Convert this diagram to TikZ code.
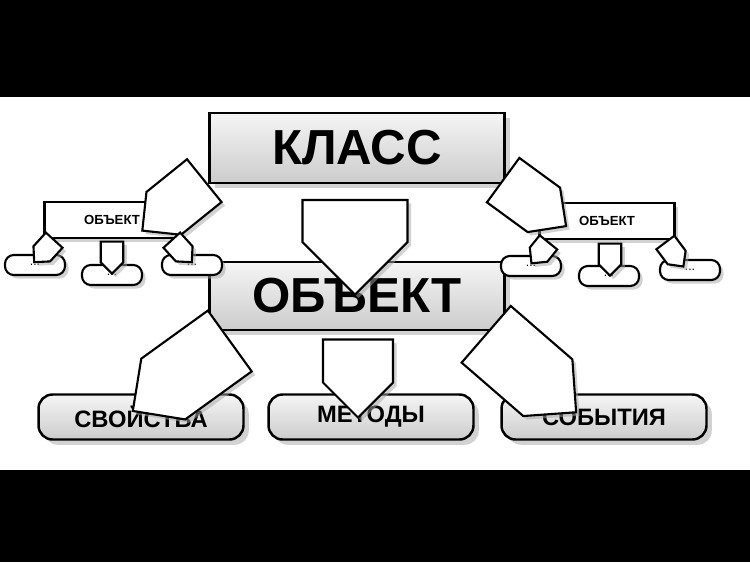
\documentclass[tikz,border=0pt]{standalone}
\usepackage{fontspec}
\setmainfont{Liberation Sans}
\usetikzlibrary{shapes.arrows,shadows,calc}

\newcommand{\blockarrow}[4]{% from, to, head width, shaft width
  \path let \p1=($(#2)-(#1)$), \n1={veclen(\x1,\y1)}, \n2={atan2(\y1,\x1)} in
    node[arrowbody, minimum height=\n1, minimum width=#3,
      single arrow head extend=0pt, rotate=\n2,
      single arrow tip angle=90, inner sep=0pt,
      text width=#4] at ($(#1)!0.5!(#2)$) {};}

\begin{document}
\begin{tikzpicture}[x=0.02cm,y=-0.02cm, thick,
  arrowbody/.style={single arrow,draw,fill=white,line width=1.2pt,
    drop shadow={shadow xshift=2pt,shadow yshift=-2pt,fill=gray!70}},
  bigbox/.style={draw,line width=1.4pt,top color=gray!8,bottom color=gray!40,
    drop shadow={shadow xshift=3pt,shadow yshift=-3pt,fill=gray!70},
    font=\bfseries},
  propbox/.style={bigbox,rounded corners=8pt,minimum width=4.1cm,
    minimum height=0.9cm,font=\bfseries\fontsize{13.5}{15}\selectfont},
  objsmall/.style={draw,line width=1.2pt,fill=white,minimum width=2.7cm,
    minimum height=0.72cm,font=\bfseries\fontsize{7.5}{9}\selectfont,
    drop shadow={shadow xshift=2pt,shadow yshift=-2pt,fill=gray!70}},
  dots/.style={draw,line width=1.2pt,fill=white,rounded corners=5pt,
    minimum width=1.2cm,minimum height=0.4cm,inner sep=0pt,
    font=\fontsize{7}{8}\selectfont,
    drop shadow={shadow xshift=2pt,shadow yshift=-2pt,fill=gray!70}}]

% background and bars
\fill[black] (0,0) rectangle (750,97);
\fill[black] (0,470) rectangle (750,562);
\useasboundingbox (0,0) rectangle (750,562);

% main boxes
\node[bigbox,minimum width=5.9cm,minimum height=1.4cm,
  font=\bfseries\fontsize{28}{30}\selectfont] (klass) at (357,148) {КЛАСС};
\node[bigbox,minimum width=5.9cm,minimum height=1.36cm,
  font=\bfseries\fontsize{28}{30}\selectfont] (obj) at (357,296) {ОБЪЕКТ};

\node[propbox] (svoj) at (141,417) {СВОЙСТВА};
\node[propbox] (met) at (371,417) {МЕТОДЫ};
\node[propbox] (sob) at (604,417) {СОБЫТИЯ};

% small objects
\node[objsmall] (objL) at (112,220) {ОБЪЕКТ};
\node[objsmall] (objR) at (607,221) {ОБЪЕКТ};

\node[dots] (l1) at (35,265) {...};
\node[dots] (l2) at (112,275) {...};
\node[dots] (l3) at (192,265) {...};
\node[dots] (r1) at (531,266) {...};
\node[dots] (r2) at (609,276) {...};
\node[dots] (r3) at (690,270) {...};

% arrows
\coordinate (ka) at (355,176);
\coordinate (kb) at (355,266);
\blockarrow{ka}{kb}{2.1cm}{0.8cm}
\coordinate (kl) at (215,172);
\coordinate (kl2) at (153,222);
\blockarrow{kl}{kl2}{1.1cm}{0.4cm}
\coordinate (kr) at (492,172);
\coordinate (kr2) at (555,218);
\blockarrow{kr}{kr2}{1.1cm}{0.4cm}

\coordinate (o1) at (245,330);
\coordinate (o1b) at (148,400);
\blockarrow{o1}{o1b}{1.5cm}{0.5cm}
\coordinate (o2) at (358,322);
\coordinate (o2b) at (358,400);
\blockarrow{o2}{o2b}{1.4cm}{0.5cm}
\coordinate (o3) at (472,322);
\coordinate (o3b) at (562,400);
\blockarrow{o3}{o3b}{1.5cm}{0.5cm}

% small arrows
\coordinate (a1) at (58,236); \coordinate (a1b) at (38,258);
\blockarrow{a1}{a1b}{0.45cm}{0.2cm}
\coordinate (a2) at (112,236); \coordinate (a2b) at (112,268);
\blockarrow{a2}{a2b}{0.45cm}{0.2cm}
\coordinate (a3) at (168,236); \coordinate (a3b) at (188,258);
\blockarrow{a3}{a3b}{0.45cm}{0.2cm}
\coordinate (b1) at (552,238); \coordinate (b1b) at (535,259);
\blockarrow{b1}{b1b}{0.45cm}{0.2cm}
\coordinate (b2) at (610,238); \coordinate (b2b) at (610,270);
\blockarrow{b2}{b2b}{0.45cm}{0.2cm}
\coordinate (b3) at (662,238); \coordinate (b3b) at (680,262);
\blockarrow{b3}{b3b}{0.45cm}{0.2cm}
\end{tikzpicture}
\end{document}
